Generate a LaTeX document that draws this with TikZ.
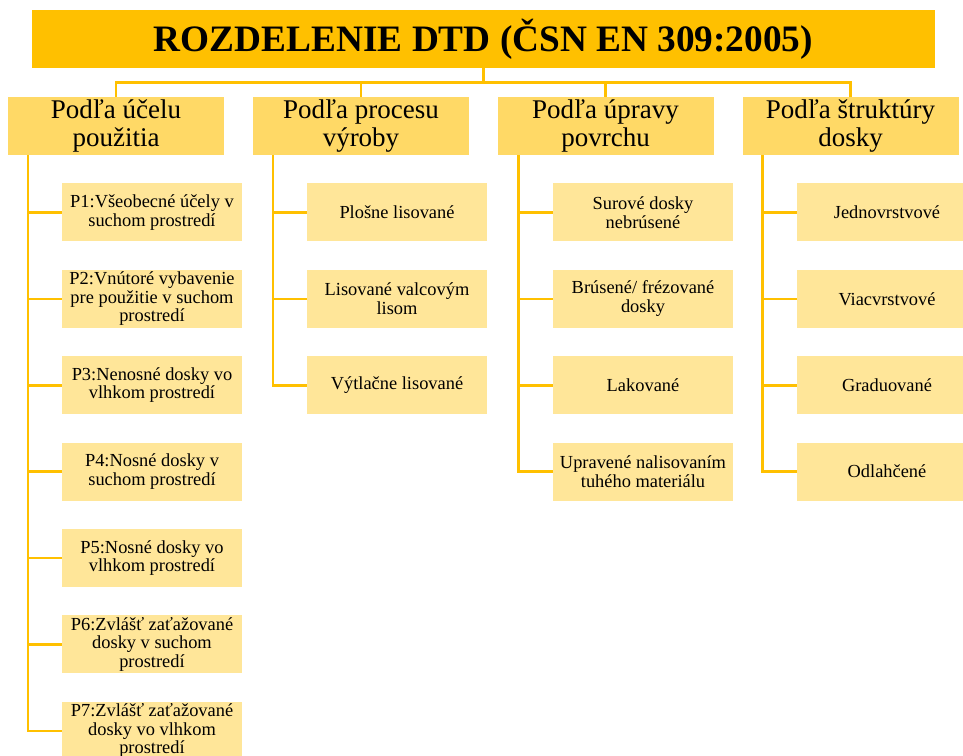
\documentclass[tikz,border=0pt]{standalone}
\usepackage{fontspec}
\setmainfont{Liberation Serif}
\usepackage{tikz}
\usetikzlibrary{positioning}
\definecolor{titlegold}{HTML}{FFC000}
\definecolor{headgold}{HTML}{FFD966}
\definecolor{itemgold}{HTML}{FFE699}

\begin{document}
\begin{tikzpicture}[
  x=1pt, y=-1pt,
  node distance=28pt,
  box/.style={inner sep=0pt, align=center},
  maintitle/.style={box, fill=titlegold, minimum width=903pt, minimum height=58pt, font=\fontsize{37.3}{40}\selectfont\bfseries},
  head/.style={box, fill=headgold, minimum width=216pt, minimum height=58pt, font=\fontsize{27}{28}\selectfont},
  item/.style={box, fill=itemgold, minimum width=180pt, minimum height=58pt, font=\fontsize{18.4}{18.6}\selectfont},
  link/.style={draw=titlegold, line width=2.6pt}
]
\useasboundingbox (0,0) rectangle (963,755);

% Title
\node[maintitle] (title) at (483.5,39) {ROZDELENIE DTD (ČSN EN 309:2005)};

% Column headers
\node[head] (h1) at (116,126) {Podľa účelu\\použitia};
\node[head] (h2) at (361,126) {Podľa procesu\\výroby};
\node[head] (h3) at (605.5,126) {Podľa úpravy\\povrchu};
\node[head] (h4) at (850.5,126) {Podľa štruktúry\\dosky};

% Column 1
\node[item, below=of h1, xshift=36pt] (p1) {P1:Všeobecné účely v\\suchom prostredí};
\node[item, below=of p1] (p2) {P2:Vnútoré vybavenie\\pre použitie v suchom\\prostredí};
\node[item, below=of p2] (p3) {P3:Nenosné dosky vo\\vlhkom prostredí};
\node[item, below=of p3] (p4) {P4:Nosné dosky v\\suchom prostredí};
\node[item, below=of p4] (p5) {P5:Nosné dosky vo\\vlhkom prostredí};
\node[item, below=of p5] (p6) {P6:Zvlášť zaťažované\\dosky v suchom\\prostredí};
\node[item, below=of p6] (p7) {P7:Zvlášť zaťažované\\dosky vo vlhkom\\prostredí};

% Column 2
\node[item, below=of h2, xshift=36pt] (r1) {Plošne lisované};
\node[item, below=of r1] (r2) {Lisované valcovým\\lisom};
\node[item, below=of r2] (r3) {Výtlačne lisované};

% Column 3
\node[item, below=of h3, xshift=37.5pt] (u1) {Surové dosky\\nebrúsené};
\node[item, below=of u1] (u2) {Brúsené/ frézované\\dosky};
\node[item, below=of u2] (u3) {Lakované};
\node[item, below=of u3] (u4) {Upravené nalisovaním\\tuhého materiálu};

% Column 4
\node[item, below=of h4, xshift=36.5pt] (s1) {Jednovrstvové};
\node[item, below=of s1] (s2) {Viacvrstvové};
\node[item, below=of s2] (s3) {Graduované};
\node[item, below=of s3] (s4) {Odlahčené};

% Title to headers
\coordinate (bus) at ([yshift=-14pt]title.south);
\foreach \h in {h1,h2,h3,h4}
  \draw[link] (title.south) -- (bus) -| (\h.north);

% Trunks and branches
\coordinate (t1) at ([xshift=20pt]h1.south west);
\coordinate (t2) at ([xshift=20pt]h2.south west);
\coordinate (t3) at ([xshift=21pt]h3.south west);
\coordinate (t4) at ([xshift=20pt]h4.south west);
\draw[link] (t1) |- (p7.west);
\draw[link] (t2) |- (r3.west);
\draw[link] (t3) |- (u4.west);
\draw[link] (t4) |- (s4.west);
\foreach \n in {p1,p2,p3,p4,p5,p6}
  \draw[link] (t1 |- \n.west) -- (\n.west);
\foreach \n in {r1,r2}
  \draw[link] (t2 |- \n.west) -- (\n.west);
\foreach \n in {u1,u2,u3}
  \draw[link] (t3 |- \n.west) -- (\n.west);
\foreach \n in {s1,s2,s3}
  \draw[link] (t4 |- \n.west) -- (\n.west);
\end{tikzpicture}
\end{document}
